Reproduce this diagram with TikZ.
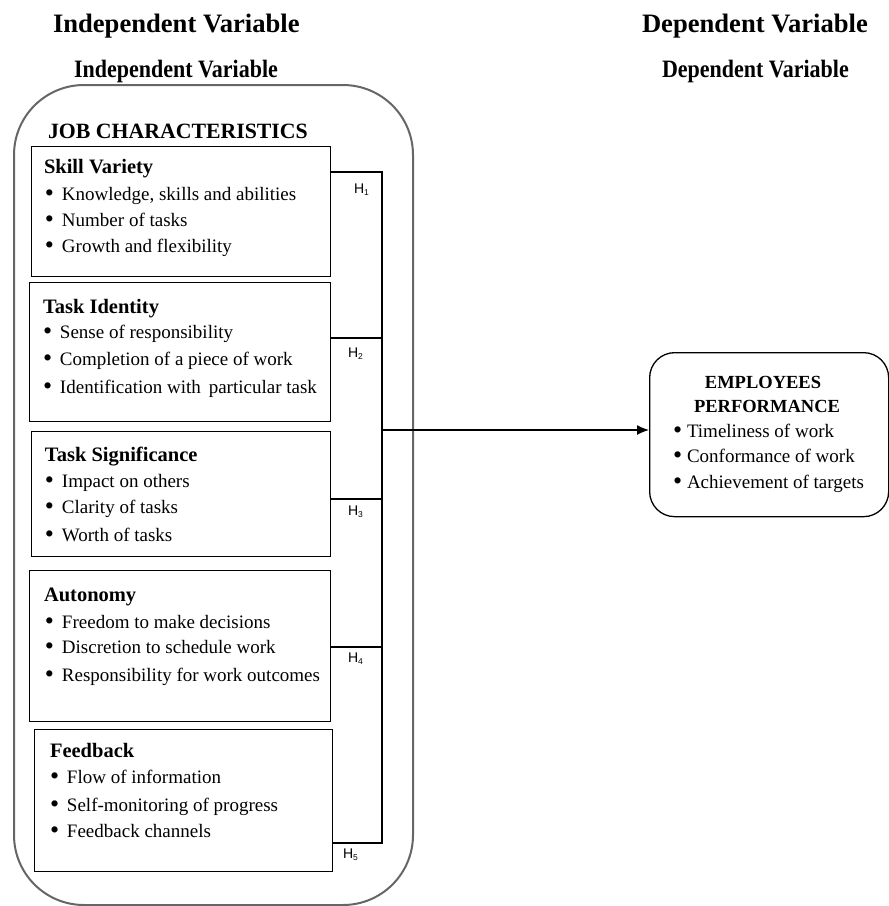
\documentclass[tikz,border=0pt]{standalone}
\usepackage{fontspec}
\setmainfont{Liberation Serif}
\newfontfamily\condfont[FakeStretch=0.88]{Liberation Serif}
\newfontfamily\hsans{Liberation Sans}
\usetikzlibrary{arrows.meta}
\newcommand{\itmfont}{\fontsize{19}{22}\selectfont}
\newcommand{\ttlfont}{\fontsize{20.5}{24}\selectfont\bfseries}
\newcommand{\bigbul}{\raisebox{-1.6pt}{\fontsize{26}{26}\selectfont\textbullet}}
\newcommand{\bul}[1]{\makebox[17pt][l]{\bigbul}#1}
\newcommand{\ebul}[1]{\makebox[14pt][l]{\bigbul}#1}
\newcommand{\hl}[1]{H\raisebox{-2.5pt}{\fontsize{8.5}{8.5}\selectfont #1}}
\tikzset{
  txt/.style={anchor=base west, inner sep=0pt, outer sep=0pt},
  itm/.style={txt, font=\itmfont},
  ttl/.style={txt, font=\ttlfont},
  hlab/.style={txt, font=\hsans\fontsize{14}{14}\selectfont},
  boxx/.style={draw, line width=1.3pt, anchor=north west, inner sep=0pt},
  conn/.style={draw, line width=1.3pt},
}
\begin{document}
\begin{tikzpicture}[x=1pt,y=-1pt]
\useasboundingbox (0,0) rectangle (889,906);
% headings
\node[txt, font=\fontsize{26.6}{30}\selectfont\bfseries] (iv1) at (53,32) {Independent Variable};
\node[txt, font=\fontsize{26.6}{30}\selectfont\bfseries] (dv1) at (642,32) {Dependent Variable};
\node[txt, font=\condfont\fontsize{25}{28}\selectfont\bfseries] (iv2) at (74,77) {Independent Variable};
\node[txt, font=\condfont\fontsize{25}{28}\selectfont\bfseries] (dv2) at (662,77) {Dependent Variable};
% main container
\node[draw=black!60, line width=2pt, rounded corners=70pt, anchor=north west, inner sep=0pt,
      minimum width=399pt, minimum height=820pt] (jc) at (13,84) {};
\node[txt, font=\fontsize{21.8}{24}\selectfont\bfseries] (jct) at (48,138) {JOB CHARACTERISTICS};
% boxes
\node[boxx, minimum width=299pt, minimum height=130pt] (sv) at (31,146) {};
\node[boxx, minimum width=301pt, minimum height=139pt] (ti) at (29,282) {};
\node[boxx, minimum width=299pt, minimum height=125pt] (ts) at (31,431) {};
\node[boxx, minimum width=301pt, minimum height=151pt] (au) at (29,570) {};
\node[boxx, minimum width=298pt, minimum height=142pt] (fb) at (34,729) {};
% Skill Variety
\node[ttl] (svt) at (44,173) {Skill Variety};
\node[itm] (sv1) at (45,200) {\bul{Knowledge, skills and abilities}};
\node[itm] (sv2) at (45,226) {\bul{Number of tasks}};
\node[itm] (sv3) at (45,252) {\bul{Growth and flexibility}};
% Task Identity
\node[ttl] (tit) at (43,313) {Task Identity};
\node[itm] (ti1) at (43,338) {\bul{Sense of responsibility}};
\node[itm] (ti2) at (43,365) {\bul{Completion of a piece of work}};
\node[itm] (ti3) at (43,393) {\bul{Identification with\, particular task}};
% Task Significance
\node[ttl] (tst) at (45,461) {Task Significance};
\node[itm] (ts1) at (45,487) {\bul{Impact on others}};
\node[itm] (ts2) at (45,513) {\bul{Clarity of tasks}};
\node[itm] (ts3) at (45,541) {\bul{Worth of tasks}};
% Autonomy
\node[ttl] (aut) at (44,601) {Autonomy};
\node[itm] (au1) at (45,628) {\bul{Freedom to make decisions}};
\node[itm] (au2) at (45,653) {\bul{Discretion to schedule work}};
\node[itm] (au3) at (45,681) {\bul{Responsibility for work outcomes}};
% Feedback
\node[ttl] (fbt) at (50,757) {Feedback};
\node[itm] (fb1) at (50,783) {\bul{Flow of information}};
\node[itm] (fb2) at (50,811) {\bul{Self-monitoring of progress}};
\node[itm] (fb3) at (50,837) {\bul{Feedback channels}};
% Employees performance
\node[draw, line width=1.3pt, rounded corners=25pt, anchor=north west, inner sep=0pt,
      minimum width=239pt, minimum height=164pt] (ep) at (649,352) {};
\node[anchor=base, inner sep=0pt, font=\fontsize{18.5}{20}\selectfont\bfseries] (ept1) at (763,388) {EMPLOYEES};
\node[anchor=base, inner sep=0pt, font=\fontsize{18.5}{20}\selectfont\bfseries] (ept2) at (767,412) {PERFORMANCE};
\node[itm] (ep1) at (673,437) {\ebul{Timeliness of work}};
\node[itm] (ep2) at (673,462) {\ebul{Conformance of work}};
\node[itm] (ep3) at (673,488) {\ebul{Achievement of targets}};
% connectors
\coordinate (j1) at (382,172);
\coordinate (j2) at (382,338);
\coordinate (jm) at (382,430);
\coordinate (j3) at (382,499);
\coordinate (j4) at (382,647);
\coordinate (j5) at (382,843);
\draw[conn] (sv.east |- j1) -- (j1) -- (j5) -- (fb.east |- j5);
\draw[conn] (ti.east |- j2) -- (j2);
\draw[conn] (ts.east |- j3) -- (j3);
\draw[conn] (au.east |- j4) -- (j4);
\draw[conn, -{Latex[length=12pt,width=10pt]}] (jm) -- (ep.west |- jm);
% hypothesis labels
\node[hlab] (h1) at (354,193) {\hl{1}};
\node[hlab] (h2) at (348,357) {\hl{2}};
\node[hlab] (h3) at (348,515) {\hl{3}};
\node[hlab] (h4) at (348,662) {\hl{4}};
\node[hlab] (h5) at (343,858) {\hl{5}};
\end{tikzpicture}
\end{document}
